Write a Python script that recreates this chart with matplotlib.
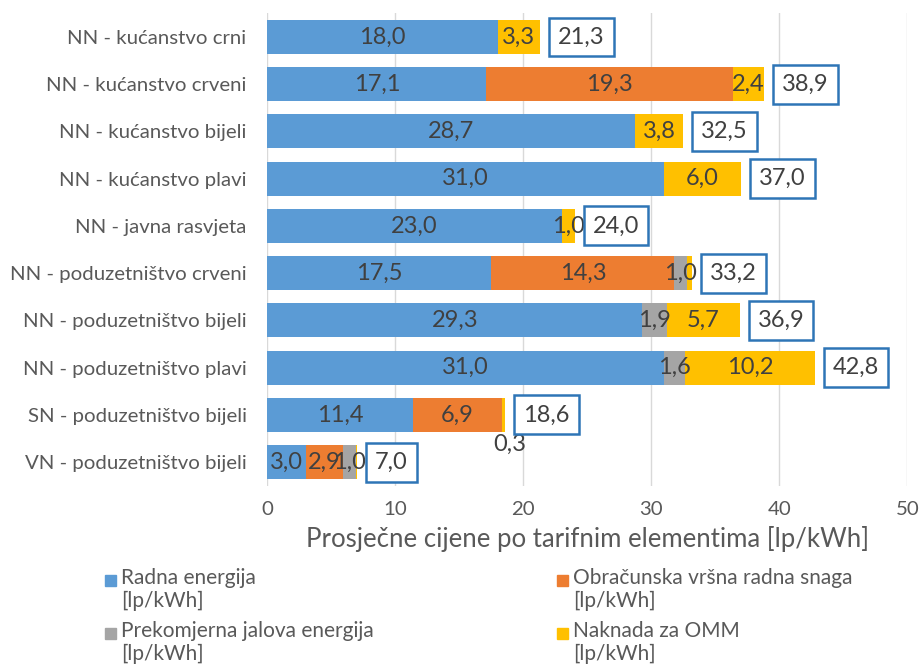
import numpy as np
import matplotlib
matplotlib.use("Agg")
from matplotlib import pyplot as plt
from matplotlib.patches import Rectangle

plt.rcParams['font.family'] = ['Lato', 'DejaVu Sans']

CATEGORIES = [
    "NN - kućanstvo crni",
    "NN - kućanstvo crveni",
    "NN - kućanstvo bijeli",
    "NN - kućanstvo plavi",
    "NN - javna rasvjeta",
    "NN - poduzetništvo crveni",
    "NN - poduzetništvo bijeli",
    "NN - poduzetništvo plavi",
    "SN - poduzetništvo bijeli",
    "VN - poduzetništvo bijeli",
]

RADNA = [18.0, 17.1, 28.7, 31.0, 23.0, 17.5, 29.3, 31.0, 11.4, 3.0]
SNAGA = [0, 19.3, 0, 0, 0, 14.3, 0, 0, 6.9, 2.9]
JALOVA = [0, 0, 0, 0, 0, 1.0, 1.9, 1.6, 0, 1.0]
OMM = [3.3, 2.4, 3.8, 6.0, 1.0, 0.4, 5.7, 10.2, 0.3, 0.1]
TOTALS = [21.3, 38.9, 32.5, 37.0, 24.0, 33.2, 36.9, 42.8, 18.6, 7.0]

SERIES = [
    ("Radna energija\n[lp/kWh]", RADNA, "#5B9BD5"),
    ("Obračunska vršna radna snaga\n[lp/kWh]", SNAGA, "#ED7D31"),
    ("Prekomjerna jalova energija\n[lp/kWh]", JALOVA, "#A5A5A5"),
    ("Naknada za OMM\n[lp/kWh]", OMM, "#FFC000"),
]

TEXT = "#404040"
GREY = "#595959"
W, H = 922, 669

fig = plt.figure(figsize=(W / 100, H / 100), dpi=100)
ax = fig.add_axes([0.29, 0.274, 0.694, 0.706])

y = np.arange(len(CATEGORIES))
left = np.zeros(len(CATEGORIES))
for name, vals, color in SERIES:
    vals = np.array(vals, dtype=float)
    ax.barh(y, vals, left=left, height=0.72, color=color, label=name, zorder=2)
    for i, v in enumerate(vals):
        if v < 0.9:
            continue
        ax.text(left[i] + v / 2, y[i], f"{v:.1f}".replace(".", ","),
                ha="center", va="center", fontsize=17, color=TEXT, zorder=3)
    left = left + vals

# small OMM value for SN shown under the bar
ax.annotate("0,3", xy=(left[8], y[8]), xytext=(3, -21), textcoords="offset points",
            ha="center", va="center", fontsize=17, color=TEXT)

for i, t in enumerate(TOTALS):
    ax.annotate(f"{t:.1f}".replace(".", ","), xy=(left[i], y[i]), xytext=(13, 0),
                textcoords="offset points", ha="left", va="center", fontsize=17, color=TEXT,
                bbox=dict(boxstyle="square,pad=0.38", fc="white", ec="#2E75B6", lw=1.8),
                zorder=4)

ax.set_xlim(0, 50)
ax.set_ylim(len(CATEGORIES) - 0.5, -0.5)
ax.set_yticks(y)
ax.set_yticklabels(CATEGORIES)
ax.set_xticks(np.arange(0, 51, 10))
ax.tick_params(axis="both", length=0, labelsize=14.7, colors=GREY)
ax.tick_params(axis="x", pad=11)
ax.tick_params(axis="y", pad=15)
ax.grid(axis="x", color="#D9D9D9", lw=1, zorder=0)
for s in ax.spines.values():
    s.set_visible(False)
ax.set_xlabel("Prosječne cijene po tarifnim elementima [lp/kWh]", fontsize=18.5,
              color=GREY, labelpad=6)

# legend laid out in two columns, row-wise like the original
cols = [105, 557]
rows = [580, 633]
for k, (name, _, color) in enumerate(SERIES):
    cx = cols[k % 2]
    cy = rows[k // 2]
    fig.patches.append(Rectangle((cx / W, 1 - (cy + 5.5) / H), 11 / W, 11 / H,
                                 transform=fig.transFigure, color=color))
    fig.text((cx + 16) / W, 1 - (cy - 12) / H, name, ha="left", va="top",
             fontsize=15, color=GREY, linespacing=1.2)

fig.savefig("out.png", dpi=100)
